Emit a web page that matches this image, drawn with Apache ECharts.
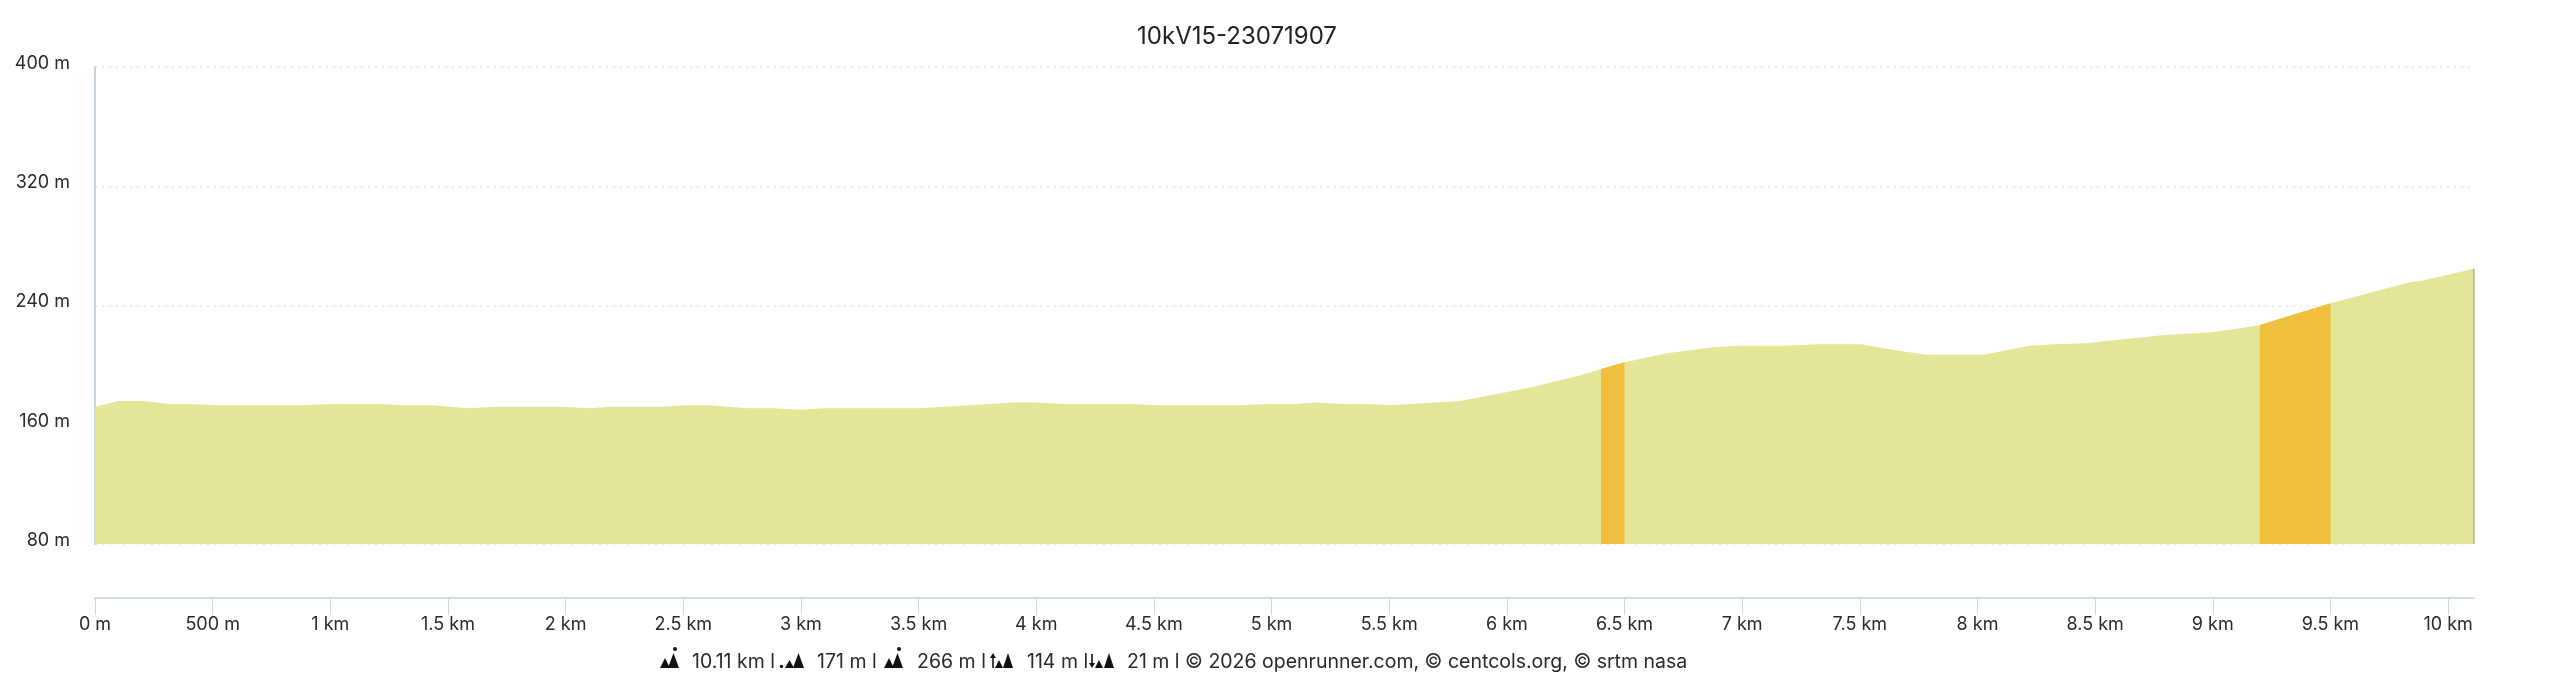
<!DOCTYPE html>
<html><head><meta charset="utf-8">
<style>html,body{margin:0;padding:0;background:#fff}#c{width:2560px;height:683px}</style>
<script src="https://cdn.jsdelivr.net/npm/echarts@6/dist/echarts.min.js"></script>
</head><body><div id="c"></div>
<script>
const titleText = '10kV15-23071907';
const distanceKm = [0,0.098,0.208,0.314,0.404,0.510,0.888,0.999,1.215,1.300,1.432,1.585,1.713,1.976,2.104,2.189,2.410,2.516,2.605,2.775,2.886,2.992,3.102,3.336,3.506,3.906,3.999,4.114,4.399,4.513,4.875,4.985,5.100,5.193,5.308,5.406,5.508,5.801,6.086,6.311,6.400,6.500,6.681,6.876,6.991,7.191,7.318,7.505,7.611,7.782,8.028,8.219,8.330,8.466,8.598,8.785,8.997,9.116,9.200,9.500,9.838,9.894,10.11];
const elevationM = [172,176,176,174,174,173,173,174,174,173,173,171,172,172,171,172,172,173,173,171,171,170,171,171,171,175,175,174,174,173,173,174,174,175,174,174,173,176,184.5,193,197.4,202,208,212,213,213,214,214,211,207,207,213,214,214.7,217,220,222,224.7,227,241.5,255.6,256.7,264.6];
const steepRanges = [[6.40,6.50],[9.20,9.50]];
const xTicksKm = [0,0.5,1,1.5,2,2.5,3,3.5,4,4.5,5,5.5,6,6.5,7,7.5,8,8.5,9,9.5,10];
const yTicksM = [80,160,240,320,400];
const footerStats = ['10.11 km l','171 m l','266 m l','114 m l','21 m l © 2026 openrunner.com, © centcols.org, © srtm nasa'];

const pts = distanceKm.map((d,i)=>[d,elevationM[i]]);
const areaBase = {type:'line',showSymbol:false,silent:true,animation:false,lineStyle:{width:0},smooth:false};
const series = [Object.assign({},areaBase,{data:pts,z:2,areaStyle:{color:'#e3e696',opacity:1},itemStyle:{color:'#e3e696'}})];
steepRanges.forEach(r=>{
  series.push(Object.assign({},areaBase,{data:pts.filter(p=>p[0]>=r[0]&&p[0]<=r[1]),z:3,areaStyle:{color:'#f0bf3e',opacity:1},itemStyle:{color:'#f0bf3e'}}));
});
const last = pts[pts.length-1];
series.push({type:'line',showSymbol:false,silent:true,animation:false,z:4,data:[[last[0],80],last],lineStyle:{color:'#94946f',width:1}});

const FONT='Inter';
const INK='#2a2a2a';
const fmtX = v => v<1 ? (v*1000)+' m' : v+' km';
const chart = echarts.init(document.getElementById('c'),null,{renderer:'canvas'});
const BASE=668, FILL='#111';
const tri=(a,b,h)=>({type:'polygon',shape:{points:[[a,BASE],[(a+b)/2,BASE-h],[b,BASE]]},style:{fill:FILL},silent:true});
const dot=(x,y,r)=>({type:'circle',shape:{cx:x,cy:y,r:r},style:{fill:FILL},silent:true});
const bar=(x,y1,y2)=>({type:'line',shape:{x1:x,y1:y1,x2:x,y2:y2},style:{stroke:FILL,lineWidth:1.6},silent:true});
const head=(x,y,dir)=>({type:'polygon',shape:{points:[[x-3,y],[x+3,y],[x,y+dir*5]]},style:{fill:FILL},silent:true});
function peaks(x){return [tri(x,x+10,10),tri(x+8,x+19,15)];}
const icons=[
  ...peaks(660),dot(675,649,2),
  dot(781.5,666.5,1.7),tri(785,794,8),tri(793,804,15),
  ...peaks(884),dot(899,649,2),
  tri(995,1003,8),tri(1003,1013,15),bar(993,668,657),head(993,658,-1),
  tri(1095,1103,8),tri(1104,1114,15),bar(1092,654,665),head(1092,663,1)
];
const footText=(x,t)=>({type:'text',left:x,top:652,silent:true,style:{text:t,font:'400 19.5px '+FONT,fill:INK}});
chart.setOption({
  animation:false,
  backgroundColor:'#fff',
  title:{text:titleText,left:1232,top:20,textAlign:'center',textStyle:{fontFamily:FONT,fontSize:24,fontWeight:400,color:'#222'}},
  grid:{left:95,top:67,width:2379,height:477,containLabel:false},
  xAxis:{type:'value',min:0,max:last[0],interval:0.5,offset:54,position:'bottom',
    axisLine:{show:true,onZero:false,lineStyle:{color:'#d3dde6',width:2}},
    axisTick:{show:true,length:17,customValues:xTicksKm,lineStyle:{color:'#cfd6dc',width:1}},
    axisLabel:{show:true,customValues:xTicksKm,margin:-1,padding:[19,0,0,0],formatter:fmtX,fontFamily:FONT,fontSize:18,color:INK,hideOverlap:false,showMinLabel:true,showMaxLabel:true},
    splitLine:{show:false}},
  yAxis:{type:'value',min:yTicksM[0],max:yTicksM[yTicksM.length-1],interval:80,
    axisLine:{show:true,onZero:false,lineStyle:{color:'#c8d3e2',width:2}},
    axisTick:{show:false},
    axisLabel:{margin:25,formatter:v=>v+' m',fontFamily:FONT,fontSize:18,color:INK,verticalAlign:'bottom',lineHeight:7},
    splitLine:{show:true,lineStyle:{type:[2,5],color:'#e2e5e8',width:1.5}}},
  graphic:[].concat(
    icons,
    footText(692,footerStats[0]),footText(817,footerStats[1]),footText(917,footerStats[2]),footText(1027,footerStats[3]),footText(1127,footerStats[4])
  ),
  series
});
</script></body></html>
